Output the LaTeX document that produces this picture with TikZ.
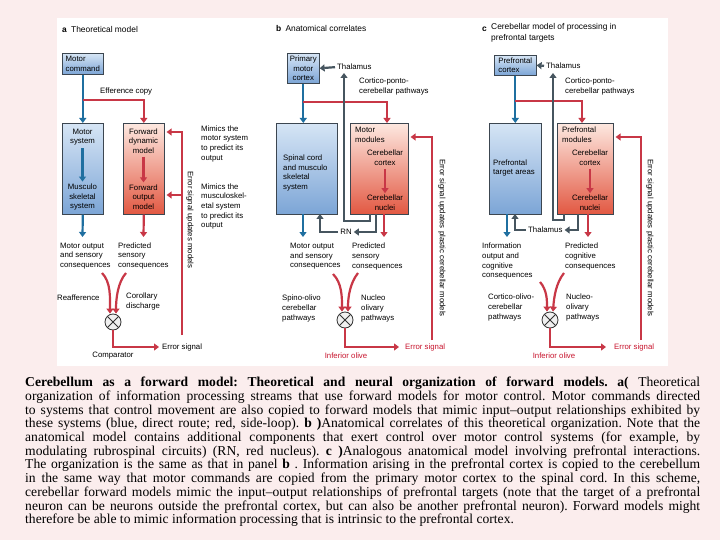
\documentclass[tikz,border=0pt]{standalone}
\usepackage{fontspec}
\setmainfont{Liberation Serif}
\newfontfamily\diagfont{Liberation Sans}
\usepackage{tikz}
\usetikzlibrary{positioning,arrows.meta,calc}
\definecolor{pinkbg}{RGB}{251,237,237}
\definecolor{bluetop}{RGB}{214,229,245}
\definecolor{bluebot}{RGB}{124,165,214}
\definecolor{redtop}{RGB}{253,232,224}
\definecolor{redbot}{RGB}{226,88,66}
\definecolor{boxedge}{RGB}{60,70,80}
\definecolor{blueln}{RGB}{31,111,160}
\definecolor{redln}{RGB}{200,55,70}
\definecolor{grayln}{RGB}{70,85,95}
\definecolor{redtxt}{RGB}{200,20,45}
\newcommand{\dfont}{\diagfont\fontsize{7.8}{9.6}\selectfont}
\tolerance=10000
\hbadness=10000
\frenchspacing

\begin{document}
\begin{tikzpicture}[
    x=1pt, y=-1pt,
    lbl/.style={font=\dfont, align=left, inner sep=0pt},
    lblc/.style={lbl, align=center},
    vlab/.style={lbl, rotate=-90},
    title/.style={font=\diagfont\fontsize{8.4}{10.6}\selectfont, align=left, inner sep=0pt},
    bluebox/.style={draw=boxedge, line width=0.6pt, top color=bluetop, bottom color=bluebot, font=\dfont, inner sep=1pt},
    redbox/.style={draw=boxedge, line width=0.6pt, top color=redtop, bottom color=redbot},
    barr/.style={draw=blueln, line width=2.2pt, -{Triangle[length=5pt,width=7pt]}},
    rarr/.style={draw=redln, line width=2.2pt, -{Triangle[length=5pt,width=7pt]}},
    garr/.style={draw=grayln, line width=2.2pt, -{Triangle[length=5pt,width=7pt]}},
    comp/.style={circle, draw=black!80, fill=black!6, line width=0.8pt, minimum size=16pt, inner sep=0pt,
        path picture={\draw[line width=0.8pt] (path picture bounding box.north west) -- (path picture bounding box.south east)
            (path picture bounding box.north east) -- (path picture bounding box.south west);}},
    captext/.style={font=\fontsize{13.6}{13.7}\selectfont, text width=675pt, align=justify, inner sep=0pt}
]
\useasboundingbox (0,0) rectangle (720,540);
\fill[pinkbg] (0,0) rectangle (720,540);
\fill[white] (57,18) rectangle (668,366);

% a: theoretical model
\node[title, anchor=west] (titA) at (62,30) {\textbf{a}\enspace Theoretical model};
\node[bluebox, minimum width=41pt, minimum height=21pt, align=left, anchor=north west] (mcmd) at (62,53) {Motor\\command};
\node[bluebox, minimum width=41pt, minimum height=91pt, anchor=north west] (msys) at (62,123) {};
\node[redbox, minimum width=41pt, minimum height=91pt, anchor=north west] (fwd) at (123,123) {};
\node[lblc] (msysT) at (82.5,137) {Motor\\system};
\node[lblc] (mskelT) at (82.5,197) {Musculo\\skeletal\\system};
\node[lblc] (fdynT) at (143.5,141) {Forward\\dynamic\\model};
\node[lblc] (foutT) at (143.5,197) {Forward\\output\\model};
\draw[barr, shorten <=3pt, shorten >=2pt] (msysT) -- (mskelT);
\draw[rarr, shorten <=3pt, shorten >=2pt] (fdynT) -- (foutT);
\draw[barr] (mcmd.south) -- (msys.north);
\coordinate (effA) at (82.5,100);
\draw[rarr] (effA) -| (fwd.north);
\node[lbl, anchor=west] (effT) at (100,91) {Efference copy};
\node[lbl, anchor=north west] (mimA1) at (201,125.5) {Mimics the\\motor system\\to predict its\\output};
\node[lbl, anchor=north west] (mimA2) at (201,183.5) {Mimics the\\musculoskel-\\etal system\\to predict its\\output};
\coordinate (eA0) at (182,335);
\coordinate (eA1) at (182,132);
\coordinate (eA2) at (182,195);
\draw[rarr, shorten >=2pt] (eA0) -- (eA1) -- (eA1 -| fwd.east);
\draw[rarr, shorten >=2pt] (eA2) -- (eA2 -| fwd.east);
\node[vlab] (updA) at (190,220) {Error signal updates models};
\coordinate (oA1) at (82.5,237);
\coordinate (oA2) at (143.5,237);
\draw[barr] (msys.south) -- (oA1);
\draw[rarr] (fwd.south) -- (oA2);
\node[lbl, anchor=north west] (outA) at (60,242.5) {Motor output\\and sensory\\consequences};
\node[lbl, anchor=north west] (predA) at (118,242.5) {Predicted\\sensory\\consequences};
\node[comp] (compA) at (113,322) {};
\coordinate (cA1) at (102,273);
\coordinate (cA2) at (126,273);
\draw[rarr] (cA1) .. controls (111,282) and (110,298) .. ([xshift=-3pt]compA.north);
\draw[rarr] (cA2) .. controls (118,282) and (116,298) .. ([xshift=3pt]compA.north);
\node[lbl, anchor=west] (reafA) at (57,298) {Reafference};
\node[lbl, anchor=north west] (corA) at (126,293) {Corollary\\discharge};
\node[lbl, anchor=west] (errA) at (162,347) {Error signal};
\draw[rarr, shorten >=3pt] (compA.south) |- (errA.west);
\node[lblc] (compT) at (113,356) {Comparator};

% b: anatomical correlates
\node[title, anchor=west] (titB) at (276,29) {\textbf{b}\enspace Anatomical correlates};
\node[bluebox, minimum width=32pt, minimum height=30pt, align=center, anchor=north west] (pmc) at (287,53) {Primary\\motor\\cortex};
\node[lbl, anchor=west] (thalB) at (337,67) {Thalamus};
\draw[garr, shorten <=2pt] (thalB.west) -- (pmc.east);
\node[bluebox, minimum width=61pt, minimum height=91pt, anchor=north west] (spinal) at (276,123) {};
\node[redbox, minimum width=58pt, minimum height=91pt, anchor=north west] (motmod) at (350,123) {};
\node[lbl, anchor=west] (spinT) at (283,173) {Spinal cord\\and musculo\\skeletal\\system};
\node[lbl, anchor=west] (modB) at (355,135) {Motor\\modules};
\node[lblc] (ccxB) at (385,158) {Cerebellar\\cortex};
\node[lblc] (cnuB) at (385,203) {Cerebellar\\nuclei};
\draw[rarr, shorten <=3pt, shorten >=2pt] (ccxB) -- (cnuB);
\draw[barr] (pmc.south) -- (pmc.south |- spinal.north);
\coordinate (effB) at (303,102);
\coordinate (effBend) at (387,123);
\draw[rarr] (effB) -| (effBend);
\node[lbl, anchor=north west] (cpcB) at (359,78) {Cortico-ponto-\\cerebellar pathways};
\coordinate (eB0) at (432,340);
\coordinate (eB1) at (432,137);
\draw[rarr, shorten >=2pt] (eB0) -- (eB1) -- (eB1 -| motmod.east);
\node[vlab] (updB) at (442,238) {Error signal updates plastic cerebellar models};
% thalamic and rubral loops
\coordinate (gB0) at (370,214);
\coordinate (gB1) at (370,221);
\coordinate (gB2) at (344,221);
\coordinate (gB3) at (344,73);
\draw[garr] (gB0) -- (gB1) -- (gB2) -- (gB3);
\node[lblc] (rn) at (346,232) {RN};
\coordinate (gB4) at (376,214);
\coordinate (gB5) at (320,214);
\draw[garr, shorten >=2pt] (gB4) |- (rn.east);
\draw[garr, shorten <=2pt] (rn.west) -| (gB5);
\coordinate (oB1) at (303,237);
\coordinate (oB2) at (384,237);
\draw[barr] (303,214) -- (oB1);
\draw[rarr] (384,214) -- (oB2);
\node[lbl, anchor=north west] (outB) at (290,243) {Motor output\\and sensory\\consequences};
\node[lbl, anchor=north west] (predB) at (352,243) {Predicted\\sensory\\consequences};
\node[comp] (compB) at (345,320) {};
\coordinate (cB1) at (333,274);
\coordinate (cB2) at (358,273);
\draw[rarr] (cB1) .. controls (342,283) and (342,297) .. ([xshift=-3pt]compB.north);
\draw[rarr] (cB2) .. controls (350,283) and (348,297) .. ([xshift=3pt]compB.north);
\node[lbl, anchor=north west] (spinoB) at (282,295) {Spino-olivo\\cerebellar\\pathways};
\node[lbl, anchor=north west] (nucB) at (361,295) {Nucleo\\olivary\\pathways};
\node[lbl, anchor=west, text=redtxt] (errB) at (405,347) {Error signal};
\draw[rarr, shorten >=6pt] (compB.south) |- (errB.west);
\node[lblc, text=redtxt] (ioB) at (346,356) {Inferior olive};

% c: prefrontal targets
\node[title, anchor=west] (titC) at (482,29) {\textbf{c}};
\node[title, anchor=north west] (titCt) at (491,23.5) {Cerebellar model of processing in\\prefrontal targets};
\node[bluebox, minimum width=42pt, minimum height=20pt, align=left, anchor=north west] (pfc) at (494,55) {Prefrontal\\cortex};
\node[lbl, anchor=west] (thalC) at (546,66) {Thalamus};
\draw[garr, shorten <=2pt] (thalC.west) -- (pfc.east);
\node[bluebox, minimum width=52pt, minimum height=91pt, anchor=north west] (pta) at (489,123) {};
\node[redbox, minimum width=56pt, minimum height=91pt, anchor=north west] (pfm) at (557,123) {};
\node[lbl, anchor=west] (ptaT) at (493,168) {Prefrontal\\target areas};
\node[lbl, anchor=west] (modC) at (562,135) {Prefrontal\\modules};
\node[lblc] (ccxC) at (590,158) {Cerebellar\\cortex};
\node[lblc] (cnuC) at (590,203) {Cerebellar\\nuclei};
\draw[rarr, shorten <=3pt, shorten >=2pt] (ccxC) -- (cnuC);
\draw[barr] (pfc.south) -- (pfc.south |- pta.north);
\coordinate (effC) at (515,101);
\coordinate (effCend) at (582,123);
\draw[rarr] (effC) -| (effCend);
\node[lbl, anchor=north west] (cpcC) at (565,78) {Cortico-ponto-\\cerebellar pathways};
\coordinate (eC0) at (641,340);
\coordinate (eC1) at (641,137);
\draw[rarr, shorten >=2pt] (eC0) -- (eC1) -- (eC1 -| pfm.east);
\node[vlab] (updC) at (650,238) {Error signal updates plastic cerebellar models};
% thalamic loops
\coordinate (gC0) at (564,214);
\coordinate (gC1) at (564,220);
\coordinate (gC2) at (553,220);
\coordinate (gC3) at (553,73);
\draw[garr] (gC0) -- (gC1) -- (gC2) -- (gC3);
\node[lbl, anchor=west] (thalC2) at (528,230) {Thalamus};
\coordinate (gC4) at (578,214);
\coordinate (gC5) at (515,214);
\draw[garr, shorten >=2pt] (gC4) |- (thalC2.east);
\draw[garr, shorten <=2pt] (thalC2.west) -| (gC5);
\coordinate (oC1) at (507,237);
\coordinate (oC2) at (588,237);
\draw[barr] (507,214) -- (oC1);
\draw[rarr] (588,214) -- (oC2);
\node[lbl, anchor=north west] (infoC) at (482,243) {Information\\output and\\cognitive\\consequences};
\node[lbl, anchor=north west] (predC) at (565,243) {Predicted\\cognitive\\consequences};
\node[comp] (compC) at (550,320) {};
\coordinate (cC1) at (540,282);
\coordinate (cC2) at (564,273);
\draw[rarr] (cC1) .. controls (547,290) and (547,300) .. ([xshift=-3pt]compC.north);
\draw[rarr] (cC2) .. controls (556,283) and (554,297) .. ([xshift=3pt]compC.north);
\node[lbl, anchor=north west] (corC) at (488,294) {Cortico-olivo-\\cerebellar\\pathways};
\node[lbl, anchor=north west] (nucC) at (566,294) {Nucleo-\\olivary\\pathways};
\node[lbl, anchor=west, text=redtxt] (errC) at (614,347) {Error signal};
\draw[rarr, shorten >=8pt] (compC.south) |- (errC.west);
\node[lblc, text=redtxt] (ioC) at (554,356) {Inferior olive};

% caption
\node[captext, anchor=north west] (capt) at (25,377) {\textbf{Cerebellum as a forward model: Theoretical and neural organization of forward models. a(} Theoretical\linebreak
organization of information processing streams that use forward models for motor control. Motor commands directed\linebreak
to systems that control movement are also copied to forward models that mimic input–output relationships exhibited by\linebreak
these systems (blue, direct route; red, side-loop). \textbf{b )}Anatomical correlates of this theoretical organization. Note that the\linebreak
anatomical model contains additional components that exert control over motor control systems (for example, by\linebreak
modulating rubrospinal circuits) (RN, red nucleus). \textbf{c )}Analogous anatomical model involving prefrontal interactions.\linebreak
The organization is the same as that in panel \textbf{b} . Information arising in the prefrontal cortex is copied to the cerebellum\linebreak
in the same way that motor commands are copied from the primary motor cortex to the spinal cord. In this scheme,\linebreak
cerebellar forward models mimic the input–output relationships of prefrontal targets (note that the target of a prefrontal\linebreak
neuron can be neurons outside the prefrontal cortex, but can also be another prefrontal neuron). Forward models might\linebreak
therefore be able to mimic information processing that is intrinsic to the prefrontal cortex.};
\end{tikzpicture}
\end{document}
